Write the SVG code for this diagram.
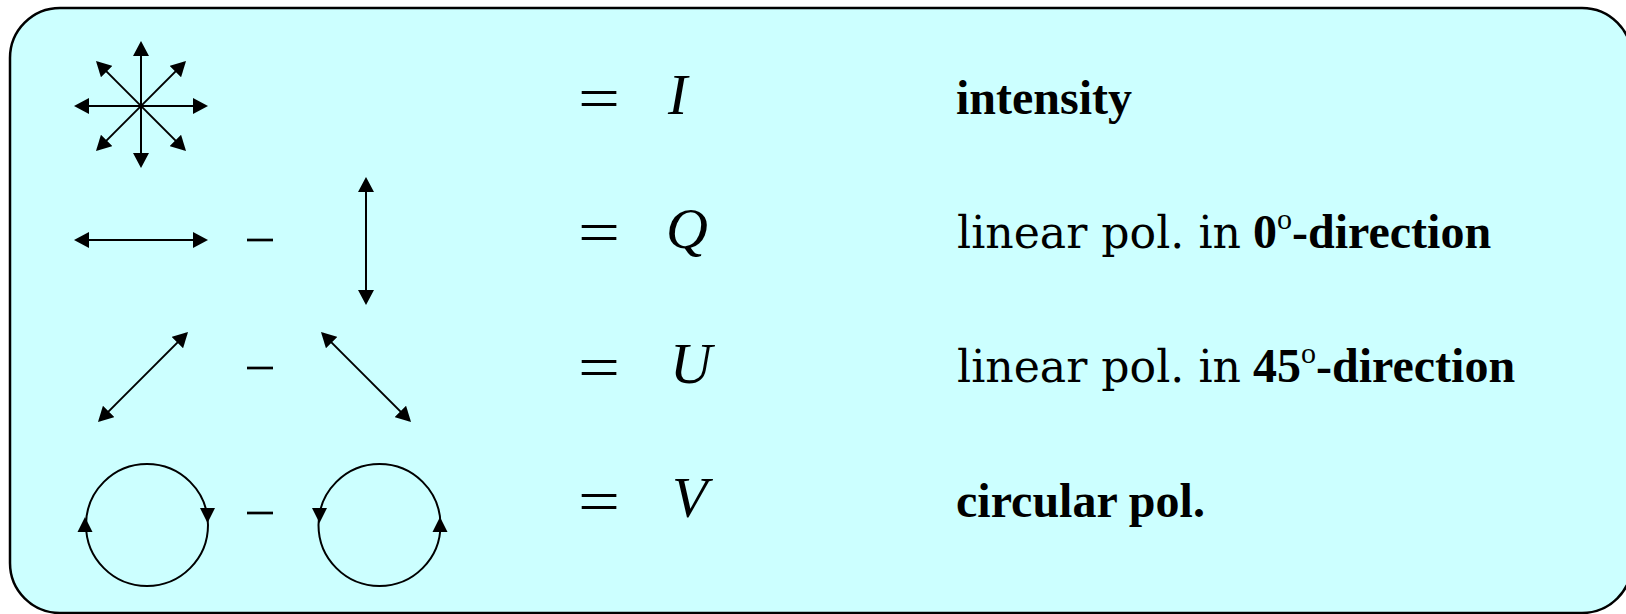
<svg xmlns="http://www.w3.org/2000/svg" width="1626" height="614" viewBox="0 0 1626 614">
  <defs>
    <marker id="ah" markerUnits="userSpaceOnUse" markerWidth="16" markerHeight="16" refX="13" refY="8" orient="auto-start-reverse" viewBox="0 0 16 16">
      <path d="M0,0 L15,8 L0,16 z" fill="#000"/>
    </marker>
  </defs>
  <style>
    .ar { stroke:#000; stroke-width:2; fill:none; marker-start:url(#ah); marker-end:url(#ah); }
    .circ { stroke:#000; stroke-width:2; fill:none; }
    .minus { stroke:#000; stroke-width:2.7; }
    .tri { fill:#000; }
    .eq { font-family:"Liberation Serif", serif; font-size:60px; fill:#000; }
    .mi { font-family:"Liberation Serif", serif; font-style:italic; font-size:58px; fill:#000; }
    .rg { font-family:"DejaVu Serif", serif; font-size:44px; fill:#000; }
    .bd { font-family:"Liberation Serif", serif; font-weight:bold; font-size:48px; fill:#000; }
    .sup { font-family:"Liberation Serif", serif; font-weight:normal; font-size:30px; }
  </style>
  <g id="panel">
    <rect x="10" y="8" width="1622" height="605" rx="50" ry="50" fill="#CCFFFF" stroke="#000" stroke-width="2.5"/>
  </g>
  <g id="row-intensity">
    <g id="sym-I">
      <line class="ar" x1="141" y1="43" x2="141" y2="166"/>
      <line class="ar" x1="76" y1="106" x2="206" y2="106"/>
      <line class="ar" x1="97.4" y1="62.4" x2="184.6" y2="149.6"/>
      <line class="ar" x1="184.6" y1="62.4" x2="97.4" y2="149.6"/>
    </g>
    <text class="eq" x="578" y="118" textLength="42" lengthAdjust="spacingAndGlyphs">=</text>
    <text class="mi" x="668" y="114">I</text>
    <text class="bd" x="956" y="114">intensity</text>
  </g>
  <g id="row-Q">
    <g id="sym-Q">
      <line class="ar" x1="76" y1="240" x2="206" y2="240"/>
      <line class="minus" x1="247" y1="240" x2="273" y2="240"/>
      <line class="ar" x1="366" y1="179" x2="366" y2="303"/>
    </g>
    <text class="eq" x="578" y="252" textLength="42" lengthAdjust="spacingAndGlyphs">=</text>
    <text class="mi" x="666" y="248">Q</text>
    <text class="rg" x="957" y="248" textLength="284" lengthAdjust="spacingAndGlyphs">linear pol. in</text>
    <text class="bd" x="1253" y="248">0<tspan class="sup" dy="-19">o</tspan><tspan dy="19">-direction</tspan></text>
  </g>
  <g id="row-U">
    <g id="sym-U">
      <line class="ar" x1="99.4" y1="420.6" x2="186.6" y2="333.4"/>
      <line class="minus" x1="247" y1="368" x2="273" y2="368"/>
      <line class="ar" x1="322.4" y1="333.4" x2="409.6" y2="420.6"/>
    </g>
    <text class="eq" x="578" y="387" textLength="42" lengthAdjust="spacingAndGlyphs">=</text>
    <text class="mi" x="670" y="383">U</text>
    <text class="rg" x="957" y="382" textLength="284" lengthAdjust="spacingAndGlyphs">linear pol. in</text>
    <text class="bd" x="1253" y="382">45<tspan class="sup" dy="-19">o</tspan><tspan dy="19">-direction</tspan></text>
  </g>
  <g id="row-V">
    <g id="sym-V">
      <circle class="circ" cx="147" cy="525" r="61"/>
      <polygon class="tri" points="200,508 215,508 207.5,523"/>
      <polygon class="tri" points="77.5,532 92.5,532 85,517"/>
      <line class="minus" x1="247" y1="513" x2="273" y2="513"/>
      <circle class="circ" cx="379.5" cy="525" r="61"/>
      <polygon class="tri" points="312,508 327,508 319.5,523"/>
      <polygon class="tri" points="432.5,532 447.5,532 440,517"/>
    </g>
    <text class="eq" x="578" y="521" textLength="42" lengthAdjust="spacingAndGlyphs">=</text>
    <text class="mi" x="672" y="517">V</text>
    <text class="bd" x="956" y="517">circular pol.</text>
  </g>
</svg>
